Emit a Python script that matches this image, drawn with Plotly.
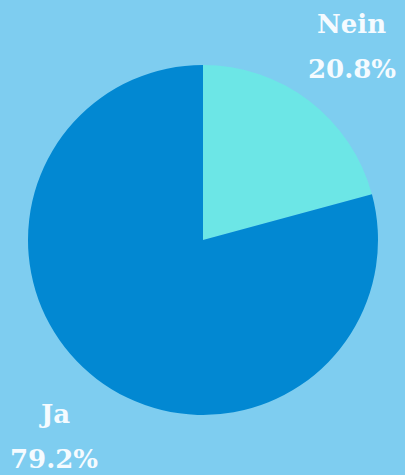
import math
import plotly.graph_objects as go

labels = ["Nein", "Ja"]
values = [20.8, 79.2]
colors = ["#6ce6e6", "#0288d2"]

BG = "#7ecdf0"
TXT = "#f5fbff"
FONT = "DejaVu Serif"

fig = go.Figure(go.Pie(
    labels=labels, values=values, sort=False, direction="clockwise", rotation=0,
    marker=dict(colors=colors, line=dict(width=0)), textinfo="none",
    hoverinfo="skip", showlegend=False,
    domain=dict(x=[0, 1], y=[0, 1]),
))

total = sum(values)
annotations = []
cum = 0.0
for lab, v in zip(labels, values):
    mid = (cum + v / 2) / total * 2 * math.pi
    cum += v
    ax = 0.5 + 0.7 * math.sin(mid)
    ay = 0.5 + 0.7 * math.cos(mid)
    pct = f"{v / total * 100:.1f}%"
    for txt, ys in ((lab, 21), (pct, -24)):
        annotations.append(dict(
            x=ax, y=ay, xref="paper", yref="paper", text=f"<b>{txt}</b>",
            showarrow=False, yshift=ys, xanchor="center", yanchor="middle",
            font=dict(family=FONT, size=26, color=TXT),
        ))

fig.update_layout(
    width=405, height=475,
    margin=dict(l=28, r=27, t=65, b=60),
    paper_bgcolor=BG, plot_bgcolor=BG,
    annotations=annotations,
)

fig.write_html(
    "out.html",
    config={"displayModeBar": False},
    post_script="document.body.style.margin='0';document.body.style.background='" + BG + "';",
)
